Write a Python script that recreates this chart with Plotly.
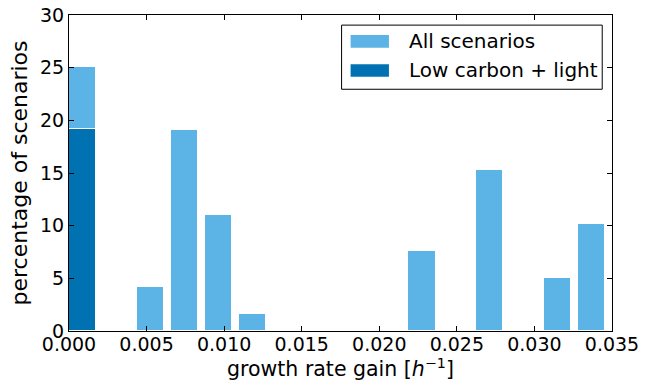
import plotly.graph_objects as go

# bin left edges (growth rate gain, h^-1) and percentages
bin_left_all = [0.0, 0.004375, 0.0065625, 0.00875, 0.0109375, 0.021875, 0.02625, 0.030625, 0.0328125]
pct_all = [25.1, 4.15, 19.1, 11.0, 1.6, 7.6, 15.3, 5.0, 10.15]
bin_left_low = [0.0]
pct_low = [19.2]
bar_width = 0.00175

light = "#5BB4E5"
dark = "#0072B2"
font = "DejaVu Sans"

fig = go.Figure()
fig.add_trace(go.Bar(x=bin_left_all, y=pct_all, width=bar_width, offset=0,
                     marker=dict(color=light, line=dict(color="white", width=1)),
                     name="All scenarios", showlegend=False))
fig.add_trace(go.Bar(x=bin_left_low, y=pct_low, width=bar_width, offset=0,
                     marker=dict(color=dark, line=dict(color="white", width=1)),
                     name="Low carbon + light", showlegend=False))

# legend drawn as layout decoration
shapes = [
    dict(type="rect", xref="paper", yref="paper", x0=0.502, x1=0.982, y0=0.765, y1=0.968,
         line=dict(color="black", width=1), fillcolor="white", layer="above"),
    dict(type="rect", xref="paper", yref="paper", x0=0.5186, x1=0.5892, y0=0.8965, y1=0.9367,
         line=dict(width=0), fillcolor=light, layer="above"),
    dict(type="rect", xref="paper", yref="paper", x0=0.5186, x1=0.5892, y0=0.8047, y1=0.844,
         line=dict(width=0), fillcolor=dark, layer="above"),
]
annotations = [
    dict(xref="paper", yref="paper", x=0.6223, y=0.9168, text="All scenarios", showarrow=False,
         xanchor="left", yanchor="middle", font=dict(family=font, size=20, color="black")),
    dict(xref="paper", yref="paper", x=0.6223, y=0.8244, text="Low carbon + light", showarrow=False,
         xanchor="left", yanchor="middle", font=dict(family=font, size=20, color="black")),
]

fig.update_layout(
    width=653, height=385,
    margin=dict(l=69, r=41, t=15, b=54, autoexpand=False),
    plot_bgcolor="white", paper_bgcolor="white",
    barmode="overlay", bargap=0,
    font=dict(family=font, size=19, color="black"),
    shapes=shapes, annotations=annotations,
    xaxis=dict(range=[0, 0.035], dtick=0.005, tick0=0, tickformat=".3f", automargin=False,
               ticklabelstandoff=-4,
               showline=True, linecolor="black", linewidth=1, mirror="ticks",
               ticks="inside", ticklen=5, tickcolor="black", showgrid=False, zeroline=False,
               title=dict(text="growth rate gain [<i>h</i><sup>−1</sup>]", font=dict(size=20.5), standoff=6)),
    yaxis=dict(range=[0, 30], dtick=5, tick0=0, automargin=False,
               showline=True, linecolor="black", linewidth=1, mirror="ticks",
               ticks="inside", ticklen=5, tickcolor="black", showgrid=False, zeroline=False,
               title=dict(text="percentage of scenarios", font=dict(size=22), standoff=6)),
)

fig.write_html("out.html")
